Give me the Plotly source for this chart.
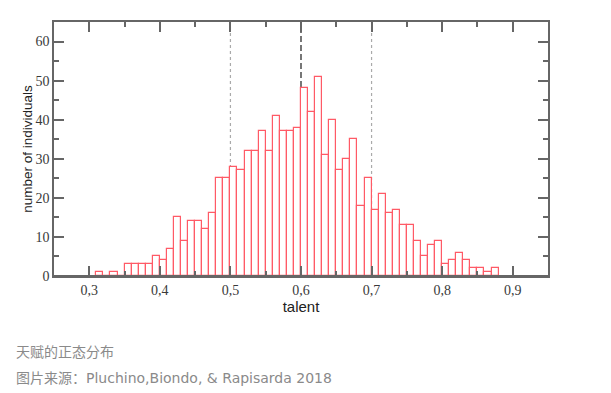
import plotly.graph_objects as go

# Histogram data: bin left edges (bin width 0.01) and counts
bin_left = [0.31, 0.32, 0.33, 0.34, 0.35, 0.36, 0.37, 0.38, 0.39, 0.40,
            0.41, 0.42, 0.43, 0.44, 0.45, 0.46, 0.47, 0.48, 0.49, 0.50,
            0.51, 0.52, 0.53, 0.54, 0.55, 0.56, 0.57, 0.58, 0.59, 0.60,
            0.61, 0.62, 0.63, 0.64, 0.65, 0.66, 0.67, 0.68, 0.69, 0.70,
            0.71, 0.72, 0.73, 0.74, 0.75, 0.76, 0.77, 0.78, 0.79, 0.80,
            0.81, 0.82, 0.83, 0.84, 0.85, 0.86, 0.87]
counts = [1, 0, 1, 0, 3, 3, 3, 3, 5, 4,
          7, 15, 9, 14, 14, 12, 16, 25, 25, 28,
          27, 32, 32, 37, 32, 41, 37, 37, 38, 48,
          42, 51, 31, 40, 27, 30, 35, 18, 25, 17,
          21, 16, 17, 13, 13, 9, 5, 8, 9, 3,
          4, 6, 4, 2, 2, 1, 2]
bin_width = 0.01

# reference lines: mean (dashed) and mean ± std (dotted)
mean_line = 0.6
std_lines = [0.5, 0.7]

x_ticks = [0.3, 0.4, 0.5, 0.6, 0.7, 0.8, 0.9]
x_tick_labels = ["0,3", "0,4", "0,5", "0,6", "0,7", "0,8", "0,9"]
y_ticks = [0, 10, 20, 30, 40, 50, 60]

caption1 = "天赋的正态分布"
caption2 = "图片来源：Pluchino,Biondo, & Rapisarda 2018"

centers = [b + bin_width / 2 for b in bin_left]

fig = go.Figure()
fig.add_trace(go.Bar(
    x=centers, y=counts, width=bin_width,
    marker=dict(color="white", line=dict(color="#ff5a66", width=1.2)),
    showlegend=False, hoverinfo="x+y",
))

axis_color = "#666666"

for xv in std_lines:
    fig.add_shape(type="line", x0=xv, x1=xv, y0=0, y1=1, xref="x", yref="y domain",
                  line=dict(color="#aaaaaa", width=1.2, dash="dot"), layer="below")
fig.add_shape(type="line", x0=mean_line, x1=mean_line, y0=0, y1=1, xref="x", yref="y domain",
              line=dict(color="#555555", width=1.6, dash="6px,3px"), layer="below")
# bottom frame line drawn over the bars' bottom edges
fig.add_shape(type="line", x0=0, x1=1, y0=0, y1=0, xref="x domain", yref="y",
              line=dict(color=axis_color, width=1.8), layer="above")

tick_font = dict(family="Liberation Serif", size=14, color="#3a3a3a")
cap_font = dict(family="DejaVu Sans, Noto Sans CJK SC", size=14, color="#8a8a8a")

fig.update_layout(
    width=611, height=393,
    margin=dict(l=46, r=71, t=12, b=125),
    paper_bgcolor="white", plot_bgcolor="white",
    bargap=0,
    xaxis=dict(
        range=[0.25, 0.95], tickvals=x_ticks, ticktext=x_tick_labels,
        ticks="inside", ticklen=10, tickwidth=1.5, tickcolor=axis_color,
        minor=dict(dtick=0.05, tick0=0.25, ticks="inside", ticklen=5, tickwidth=1.5, tickcolor=axis_color),
        showline=True, linecolor=axis_color, linewidth=1.5, mirror="ticks",
        showgrid=False, zeroline=False, tickfont=tick_font,
        title=dict(text="talent", font=dict(family="Liberation Sans", size=15, color="#222222"), standoff=2),
    ),
    yaxis=dict(
        range=[0, 65], tickvals=y_ticks,
        ticks="inside", ticklen=10, tickwidth=1.5, tickcolor=axis_color,
        minor=dict(dtick=5, tick0=0, ticks="inside", ticklen=5, tickwidth=1.5, tickcolor=axis_color),
        showline=True, linecolor=axis_color, linewidth=1.5, mirror="ticks",
        showgrid=False, zeroline=False, tickfont=tick_font,
        title=dict(text="number of individuals", font=dict(family="Liberation Sans", size=13.5, color="#222222"), standoff=0),
    ),
    annotations=[
        dict(text=caption1, x=-0.081, y=-0.30, xref="paper", yref="paper",
             xanchor="left", yanchor="middle", showarrow=False, font=cap_font),
        dict(text=caption2, x=-0.081, y=-0.402, xref="paper", yref="paper",
             xanchor="left", yanchor="middle", showarrow=False, font=cap_font),
    ],
)

fig.write_html("out.html")
